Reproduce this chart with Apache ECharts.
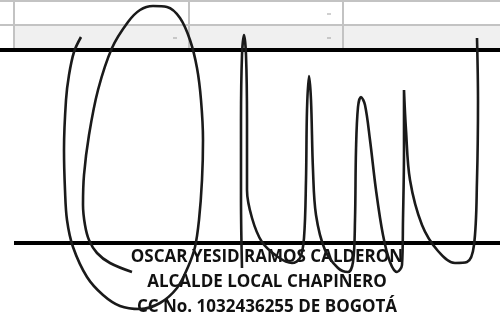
<!DOCTYPE html>
<html>
<head>
<meta charset="utf-8">
<script src="https://cdn.jsdelivr.net/npm/echarts@6/dist/echarts.min.js"></script>
<style>
  html, body { margin: 0; padding: 0; background: #fff; }
  #chart { width: 500px; height: 319px; }
</style>
</head>
<body>
<div id="chart"></div>
<script>
// page coordinates: x 0..500, y 0..319 (top down)
const tableRowLines = [1, 25]
const tableColLines = [14, 189, 343]
const shadedRow = [[15, 26], [500, 48]]
const dashMarks = [[329, 14], [175, 38], [329, 38]]
const blackRules = [
  [[0, 50], [500, 50]],
  [[14, 243], [500, 243]]
]

const signatureOval = [
  [81, 37], [74, 52], [69, 75], [66, 100], [64, 150], [65, 190], [67, 220],
  [73, 247], [87, 277], [103, 295], [120, 306], [140, 309], [160, 303],
  [177, 288], [188, 267], [195, 247], [199, 220], [202, 180], [203, 140],
  [201, 100], [197, 68], [190, 40], [180, 18], [167, 7], [153, 6], [140, 10],
  [128, 22], [112, 48], [98, 90], [89, 135], [84, 175], [83, 205], [85, 225],
  [89, 240], [97, 253], [110, 263], [132, 272]
]
const signatureWaves = [
  [242, 268], [241, 200], [241, 120], [242, 55], [244, 35], [246, 55],
  [247, 120], [247, 190], [252, 218], [262, 242], [278, 257], [292, 263],
  [300, 258], [304, 238], [306, 180], [307, 110], [309, 76], [311, 100],
  [313, 170], [316, 215], [325, 250], [338, 268], [348, 272], [353, 262],
  [355, 220], [356, 150], [358, 107], [361, 97], [365, 105], [370, 140],
  [376, 190], [383, 235], [390, 262], [397, 272], [402, 265], [403, 220],
  [404, 150], [404, 90], [406, 130], [410, 180], [422, 225], [438, 251],
  [455, 263], [467, 262], [474, 245], [477, 180], [478, 100], [477, 38]
]

const nameLines = [
  'OSCAR YESID RAMOS CALDERON',
  'ALCALDE LOCAL CHAPINERO',
  'CC No. 1032436255 DE BOGOTÁ'
]
const nameLineY = [257, 282, 307]

const grayLine = { color: '#c3c3c3', width: 2 }

const series = []

tableRowLines.forEach(y => {
  series.push({
    type: 'line', data: [[0, y], [500, y]], symbol: 'none',
    lineStyle: grayLine, z: 2, silent: true
  })
})
tableColLines.forEach(x => {
  series.push({
    type: 'line', data: [[x, 0], [x, 48]], symbol: 'none',
    lineStyle: grayLine, z: 2, silent: true
  })
})
// light row fill
series.push({
  type: 'line', data: [], symbol: 'none', silent: true,
  markArea: {
    silent: true,
    itemStyle: { color: '#f0f0f0' },
    data: [[{ coord: shadedRow[0] }, { coord: shadedRow[1] }]]
  },
  z: 1
})
series.push({
  type: 'scatter', data: dashMarks, symbol: 'rect', symbolSize: [4, 1],
  itemStyle: { color: '#8a8a8a' }, z: 3, silent: true
})
blackRules.forEach(seg => {
  series.push({
    type: 'line', data: seg, symbol: 'none',
    lineStyle: { color: '#000', width: 4 }, z: 4, silent: true
  })
})
;[signatureOval, signatureWaves].forEach(stroke => {
  series.push({
    type: 'line', data: stroke, symbol: 'none', smooth: 0.35,
    lineStyle: { color: '#1a1a1a', width: 2.6 }, z: 10, silent: true
  })
})

const chart = echarts.init(document.getElementById('chart'))
chart.setOption({
  animation: false,
  grid: { left: 0, right: 0, top: 0, bottom: 0 },
  xAxis: { type: 'value', min: 0, max: 500, show: false },
  yAxis: { type: 'value', min: 0, max: 319, inverse: true, show: false },
  graphic: nameLines.map((t, i) => ({
    type: 'text',
    z: 5,
    style: {
      text: t,
      x: 267,
      y: nameLineY[i],
      align: 'center',
      verticalAlign: 'middle',
      font: 'bold 17px "Open Sans"',
      fill: '#111'
    }
  })),
  series: series
})
</script>
</body>
</html>
